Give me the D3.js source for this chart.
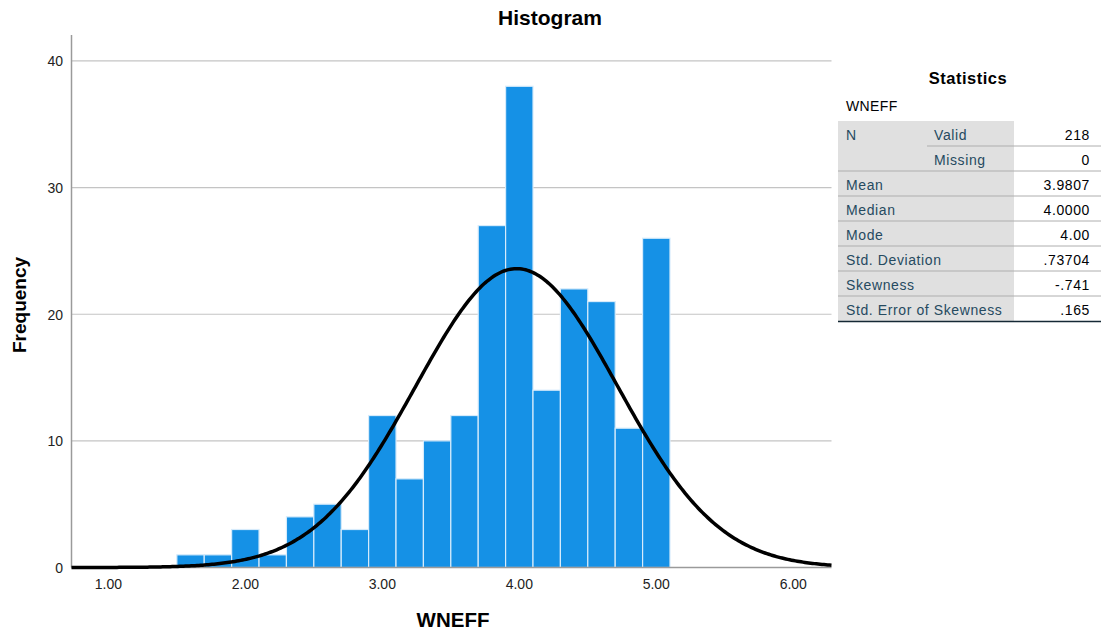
<!DOCTYPE html>
<html>
<head>
<meta charset="utf-8">
<script src="https://cdn.jsdelivr.net/npm/d3@7"></script>
<style>
  body { margin: 0; background: #fff; font-family: "Liberation Sans", Arial, sans-serif; }
</style>
</head>
<body>
<div id="chart"></div>
<script>
// Histogram bins (WNEFF), width 0.2
const binStarts = [1.5, 1.7, 1.9, 2.1, 2.3, 2.5, 2.7, 2.9, 3.1, 3.3, 3.5, 3.7, 3.9, 4.1, 4.3, 4.5, 4.7, 4.9];
const binCounts = [1, 1, 3, 1, 4, 5, 3, 12, 7, 10, 12, 27, 38, 14, 22, 21, 11, 26];
const binWidth = 0.2;

const xTicks = [1, 2, 3, 4, 5, 6];
const yTicks = [0, 10, 20, 30, 40];

// Statistics table
const statLabels = ["N", "", "Mean", "Median", "Mode", "Std. Deviation", "Skewness", "Std. Error of Skewness"];
const statSubLabels = ["Valid", "Missing", "", "", "", "", "", ""];
const statValues = ["218", "0", "3.9807", "4.0000", "4.00", ".73704", "-.741", ".165"];

const n = 218, mean = 3.9807, sd = 0.73704;

const width = 1106, height = 635;
const svg = d3.select('#chart')
    .append('svg')
    .attr('width', width)
    .attr('height', height);

const plotLeft = 71.5, plotRight = 831.5, plotTop = 35, plotBottom = 567.5;

const x = d3.scaleLinear().domain([0.731, 6.279]).range([plotLeft, plotRight]);
const y = d3.scaleLinear().domain([0, 42.05]).range([plotBottom, plotTop]);

// Title
svg.append('text')
    .attr('x', 550).attr('y', 25)
    .attr('text-anchor', 'middle')
    .style('font-size', '21px').style('font-weight', 'bold')
    .text('Histogram');

// Gridlines
svg.append('g')
    .selectAll('line')
    .data(yTicks.filter(d => d > 0))
    .join('line')
    .attr('x1', plotLeft).attr('x2', plotRight)
    .attr('y1', d => y(d)).attr('y2', d => y(d))
    .attr('stroke', '#c4c4c4').attr('stroke-width', 1.2);

// Bars
svg.append('g')
    .selectAll('rect')
    .data(binStarts)
    .join('rect')
    .attr('x', d => x(d))
    .attr('width', d => x(d + binWidth) - x(d))
    .attr('y', (d, i) => y(binCounts[i]))
    .attr('height', (d, i) => y(0) - y(binCounts[i]))
    .attr('fill', '#1591e6')
    .attr('stroke', '#d6ebfb')
    .attr('stroke-width', 1.2);

// Axes lines
svg.append('line')
    .attr('x1', plotLeft).attr('x2', plotLeft)
    .attr('y1', plotTop).attr('y2', plotBottom)
    .attr('stroke', '#9a9a9a').attr('stroke-width', 1.5);
svg.append('line')
    .attr('x1', plotLeft).attr('x2', plotRight)
    .attr('y1', plotBottom).attr('y2', plotBottom)
    .attr('stroke', '#9a9a9a').attr('stroke-width', 1.5);

// Normal curve
const curveX = d3.range(0, 401).map(i => x.domain()[0] + i * (x.domain()[1] - x.domain()[0]) / 400);
const normal = v => n * binWidth * Math.exp(-0.5 * ((v - mean) / sd) ** 2) / (sd * Math.sqrt(2 * Math.PI));
svg.append('path')
    .datum(curveX)
    .attr('d', d3.line().x(d => x(d)).y(d => y(normal(d))))
    .attr('fill', 'none')
    .attr('stroke', '#000')
    .attr('stroke-width', 3.5);

// Tick labels
svg.append('g')
    .selectAll('text')
    .data(xTicks)
    .join('text')
    .attr('x', d => x(d)).attr('y', 589)
    .attr('text-anchor', 'middle')
    .attr('fill', '#222')
    .style('font-size', '14px')
    .text(d => d.toFixed(2));

svg.append('g')
    .selectAll('text')
    .data(yTicks)
    .join('text')
    .attr('x', 63).attr('y', d => y(d) + 5.5)
    .attr('text-anchor', 'end')
    .attr('fill', '#222')
    .style('font-size', '14px')
    .text(d => d);

// Axis titles
svg.append('text')
    .attr('x', 453).attr('y', 627)
    .attr('text-anchor', 'middle')
    .style('font-size', '20.5px').style('font-weight', 'bold')
    .text('WNEFF');
svg.append('text')
    .attr('transform', 'translate(26,305) rotate(-90)')
    .attr('text-anchor', 'middle')
    .style('font-size', '19px').style('font-weight', 'bold')
    .text('Frequency');

// Statistics table
const tx0 = 838, tx1 = 927, tx2 = 1014, tx3 = 1101, ty0 = 121, rowH = 25;
const tbl = svg.append('g');
tbl.append('text')
    .attr('x', 968).attr('y', 84)
    .attr('text-anchor', 'middle')
    .style('font-size', '16.5px').style('font-weight', 'bold')
    .style('letter-spacing', '0.5px')
    .text('Statistics');
tbl.append('text')
    .attr('x', 846).attr('y', 111)
    .attr('fill', '#010205')
    .style('font-size', '14px')
    .style('letter-spacing', '0.4px')
    .text('WNEFF');
tbl.append('rect')
    .attr('x', tx0).attr('y', ty0)
    .attr('width', tx2 - tx0).attr('height', rowH * statValues.length)
    .attr('fill', '#e0e0e0');

const rows = tbl.selectAll('g.row')
    .data(statValues)
    .join('g')
    .attr('class', 'row')
    .attr('transform', (d, i) => `translate(0,${ty0 + i * rowH})`);

rows.append('line')
    .attr('x1', (d, i) => i === 1 ? tx1 : tx0).attr('x2', tx3)
    .attr('y1', 0).attr('y2', 0)
    .attr('stroke', (d, i) => i === 0 ? 'none' : '#aeaeae')
    .attr('stroke-width', 1);
rows.append('text')
    .attr('x', 846).attr('y', 19)
    .attr('fill', '#264a60')
    .style('font-size', '14px')
    .style('letter-spacing', '0.6px')
    .text((d, i) => statLabels[i]);
rows.append('text')
    .attr('x', 934).attr('y', 19)
    .attr('fill', '#264a60')
    .style('font-size', '14px')
    .style('letter-spacing', '0.6px')
    .text((d, i) => statSubLabels[i]);
rows.append('text')
    .attr('x', 1090).attr('y', 19)
    .attr('text-anchor', 'end')
    .attr('fill', '#010205')
    .style('font-size', '14px')
    .style('letter-spacing', '0.6px')
    .text(d => d);

tbl.append('line')
    .attr('x1', tx0).attr('x2', tx3)
    .attr('y1', ty0 + rowH * statValues.length + 0.5).attr('y2', ty0 + rowH * statValues.length + 0.5)
    .attr('stroke', '#152935').attr('stroke-width', 1.5);
</script>
</body>
</html>
